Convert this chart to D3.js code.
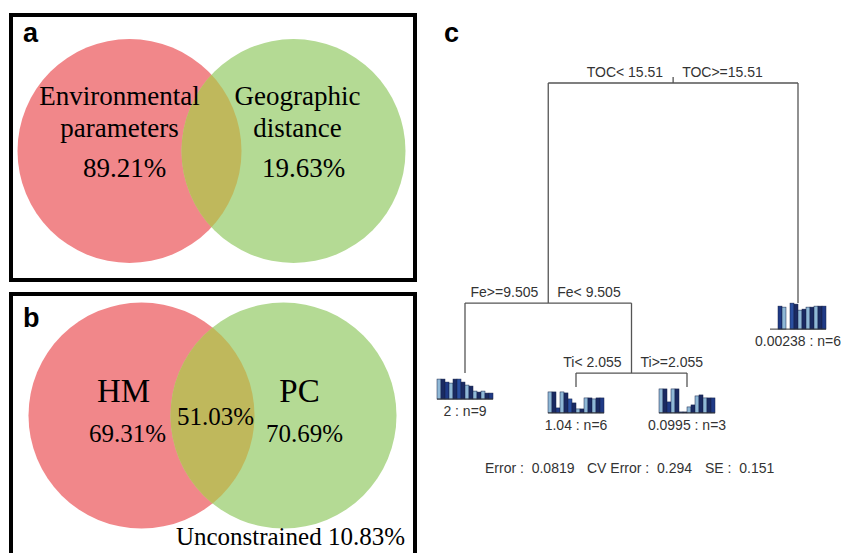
<!DOCTYPE html>
<html>
<head>
<meta charset="utf-8">
<script src="https://cdn.jsdelivr.net/npm/d3@7"></script>
<style>
  html, body { margin: 0; padding: 0; background: #fff; }
  svg { display: block; }
</style>
</head>
<body>
<svg id="chart" width="841" height="553"></svg>
<script>
// ---------------- DATA ----------------
// Panel a (Venn)
const vennALabels = [["Environmental", "parameters"], ["Geographic", "distance"]];
const vennAValues = [89.21, 19.63];
// Panel b (Venn)
const vennBLabels = ["HM", "PC"];
const vennBValues = [69.31, 70.69];
const vennBShared = 51.03;
const vennBUnconstrained = 10.83;

// Panel c (multivariate regression tree)
const splitIds = ["root", "fe", "ti"];
const splitLeftLabels = ["TOC< 15.51", "Fe>=9.505", "Ti< 2.055"];
const splitRightLabels = ["TOC>=15.51", "Fe< 9.505", "Ti>=2.055"];
const splitLevel = [1.0, 0.333, 0.121];          // relative error level of each split node
const leafIds = ["l1", "l2", "l3", "l4"];
const leafLabels = ["2 : n=9", "1.04 : n=6", "0.0995 : n=3", "0.00238 : n=6"];
const leafLevel = [0.121, 0.079, 0.079, 0.333];
const leafBars = [
  [20, 20, 17, 16, 20, 20, 17, 14, 13, 8, 7, 8, 6, 6],
  [21, 21, 5, 21, 20, 14, 10, 4, 4, 15, 15, 14, 15, 15],
  [24, 24, 11, 24, 24, 1, 1, 6, 8, 17, 18, 15, 15, 15],
  [0, 0, 23, 22, 0, 26, 25, 19, 20, 22, 22, 23, 23, 23]
];
const speciesColors = ["#8fb8d6", "#1a2a62", "#1f3a86", "#8fb8d6", "#1a2a62", "#2a4fa0", "#1a2a62",
                       "#8fb8d6", "#1a2a62", "#8fb8d6", "#1a2a62", "#8fb8d6", "#1a2a62", "#1f3a86"];
const fitStats = ["Error :  0.0819", "CV Error :  0.294", "SE :  0.151"];

// tree topology: children [left, right]
const treeChildren = { root: ["fe", "l4"], fe: ["l1", "ti"], ti: ["l2", "l3"] };

// ---------------- DRAW ----------------
const svg = d3.select("#chart");
const serif = "'Liberation Serif', 'Times New Roman', serif";
const sans = "'Liberation Sans', Arial, sans-serif";
const RED = "#f1878a", GREEN = "#b4da94", OVER = "#bfb85c";

// panel frames
svg.append("rect").attr("x", 11).attr("y", 15).attr("width", 404).attr("height", 265)
  .attr("fill", "none").attr("stroke", "#000").attr("stroke-width", 4);
svg.append("rect").attr("x", 11).attr("y", 294).attr("width", 404).attr("height", 300)
  .attr("fill", "none").attr("stroke", "#000").attr("stroke-width", 4);

// panel letters
[["a", 23, 42], ["b", 23, 327], ["c", 444, 42]].forEach(([t, x, y]) => {
  svg.append("text").attr("x", x).attr("y", y).text(t)
    .attr("font-family", sans).attr("font-weight", "bold").attr("font-size", 27).attr("fill", "#000");
});

function venn(id, cx, cy, sep, r) {
  const x = d3.scaleLinear().domain([-1, 1]).range([cx - sep / 2, cx + sep / 2]);
  const g = svg.append("g");
  const clipId = "clip-" + id;
  g.append("clipPath").attr("id", clipId).append("circle")
    .attr("cx", x(-1)).attr("cy", cy).attr("r", r);
  g.append("circle").attr("cx", x(-1)).attr("cy", cy).attr("r", r).attr("fill", RED);
  g.append("circle").attr("cx", x(1)).attr("cy", cy).attr("r", r).attr("fill", GREEN);
  g.append("circle").attr("cx", x(1)).attr("cy", cy).attr("r", r).attr("fill", OVER)
    .attr("clip-path", `url(#${clipId})`);
  return x;
}

// Panel a
const xa = venn("a", 211.5, 151, 164, 112);
const aText = svg.append("g").attr("font-family", serif).attr("fill", "#000").attr("text-anchor", "middle");
const aLabelX = [xa(-1) - 10, xa(1) + 4];
const aValX = [xa(-1) - 5, xa(1) + 10];
vennALabels.forEach((lines, i) => {
  lines.forEach((ln, j) => {
    aText.append("text").attr("x", aLabelX[i]).attr("y", 105 + j * 32).attr("font-size", 27).text(ln);
  });
  aText.append("text").attr("x", aValX[i]).attr("y", 177).attr("font-size", 27)
    .text(vennAValues[i].toFixed(2) + "%");
});

// Panel b
const xb = venn("b", 212.5, 415.5, 142, 113);
const bText = svg.append("g").attr("font-family", serif).attr("fill", "#000").attr("text-anchor", "middle");
const bLabelX = [xb(-1) - 18, xb(1) + 16];
const bValX = [xb(-1) - 14, xb(1) + 21];
vennBLabels.forEach((t, i) => {
  bText.append("text").attr("x", bLabelX[i]).attr("y", 402).attr("font-size", 33).text(t);
  bText.append("text").attr("x", bValX[i]).attr("y", 442).attr("font-size", 25)
    .text(vennBValues[i].toFixed(2) + "%");
});
bText.append("text").attr("x", xb(0) + 3).attr("y", 425).attr("font-size", 25).text(vennBShared.toFixed(2) + "%");
bText.append("text").attr("x", 405).attr("y", 545).attr("font-size", 25).attr("text-anchor", "end")
  .text("Unconstrained " + vennBUnconstrained.toFixed(2) + "%");

// Panel c: tree
const nodes = {};
leafIds.forEach((id, i) => nodes[id] = { id, leaf: true, level: leafLevel[i], label: leafLabels[i], bars: leafBars[i] });
splitIds.forEach((id, i) => nodes[id] = { id, leaf: false, level: splitLevel[i], left: splitLeftLabels[i], right: splitRightLabels[i] });

const xLeaf = d3.scalePoint().domain(leafIds).range([465, 798]);
const yLevel = d3.scaleLinear().domain([1, 0]).range([83, 413]);

function place(id) {
  const n = nodes[id];
  n.y = yLevel(n.level);
  if (n.leaf) { n.x = xLeaf(id); return n.x; }
  const [a, b] = treeChildren[id].map(place);
  n.x = (a + b) / 2;
  return n.x;
}
place("root");

const tree = svg.append("g");
const LINE = "#555";
splitIds.forEach(id => {
  const n = nodes[id];
  const [lc, rc] = treeChildren[id].map(c => nodes[c]);
  tree.append("line").attr("x1", lc.x).attr("x2", rc.x).attr("y1", n.y).attr("y2", n.y)
    .attr("stroke", LINE).attr("stroke-width", 1.3);
  [lc, rc].forEach(c => {
    tree.append("line").attr("x1", c.x).attr("x2", c.x).attr("y1", n.y).attr("y2", c.y)
      .attr("stroke", LINE).attr("stroke-width", 1.3);
  });
  tree.append("text").attr("x", n.x - 10).attr("y", n.y - 6).attr("text-anchor", "end")
    .attr("font-family", sans).attr("font-size", 14).attr("fill", "#333").text(n.left);
  tree.append("text").attr("x", n.x + 9).attr("y", n.y - 6).attr("text-anchor", "start")
    .attr("font-family", sans).attr("font-size", 14).attr("fill", "#333").text(n.right);
});
// root tick
tree.append("line").attr("x1", nodes.root.x).attr("x2", nodes.root.x)
  .attr("y1", nodes.root.y - 6).attr("y2", nodes.root.y).attr("stroke", LINE).attr("stroke-width", 1.3);

// leaf bar plots
const xBar = d3.scaleBand().domain(d3.range(14)).range([-28, 28]).padding(0);
const hBar = d3.scaleLinear().domain([0, 26]).range([0, 26]);
leafIds.forEach(id => {
  const n = nodes[id];
  const base = n.y + 26;
  const g = tree.append("g").attr("transform", `translate(${n.x},${base})`);
  g.selectAll("rect").data(n.bars).join("rect")
    .attr("x", (d, i) => xBar(i)).attr("width", xBar.bandwidth())
    .attr("y", d => -hBar(d)).attr("height", d => hBar(d))
    .attr("fill", (d, i) => speciesColors[i])
    .attr("stroke", "#15224a").attr("stroke-width", 0.5);
  g.append("line").attr("x1", -28).attr("x2", 28).attr("y1", 0).attr("y2", 0)
    .attr("stroke", "#333").attr("stroke-width", 1);
  g.append("text").attr("x", 0).attr("y", 17).attr("text-anchor", "middle")
    .attr("font-family", sans).attr("font-size", 14).attr("fill", "#333").text(n.label);
});

// fit statistics
const statX = [485, 587, 705];
fitStats.forEach((t, i) => {
  svg.append("text").attr("x", statX[i]).attr("y", 473).attr("font-family", sans)
    .attr("font-size", 14).attr("fill", "#333").style("white-space", "pre").text(t);
});
</script>
</body>
</html>
